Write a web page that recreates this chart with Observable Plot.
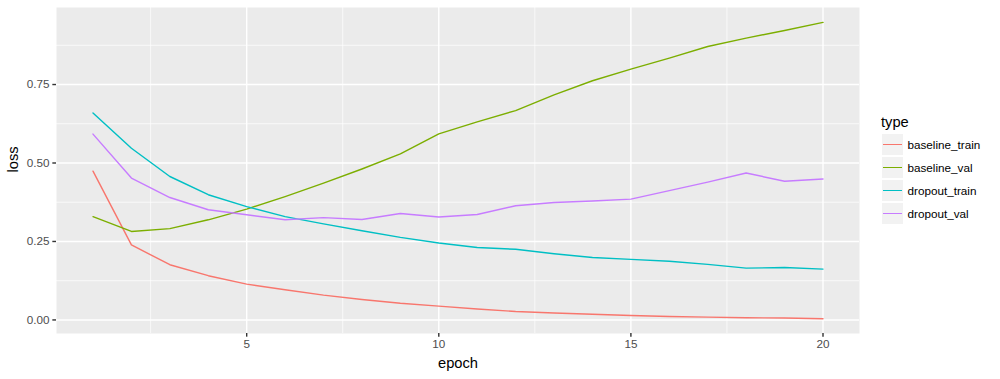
<!DOCTYPE html>
<html><head><meta charset="utf-8">
<script src="https://cdn.jsdelivr.net/npm/d3@7"></script>
<script src="https://cdn.jsdelivr.net/npm/@observablehq/plot@0.6"></script>
<style>
body{margin:0;background:#fff;font-family:"Liberation Sans",Arial,sans-serif;}
#wrap{position:relative;width:1000px;height:379px;overflow:hidden;}
#legend{position:absolute;left:881px;top:113.5px;}
#legend .title{font-size:14.7px;color:#000;line-height:1.117;height:19px;}
#legend .row{display:flex;align-items:center;height:23px;}
#legend .key{width:23px;height:23px;box-sizing:border-box;border:1px solid #fff;background:#F2F2F2;position:relative;}
#legend .key i{position:absolute;left:1px;right:1px;top:10.3px;height:1.42px;}
#legend .lab{font-size:11.7px;color:#000;margin-left:3.5px;}
</style></head><body><div id="wrap"></div>
<script>
const epochs = [1,2,3,4,5,6,7,8,9,10,11,12,13,14,15,16,17,18,19,20];
const types = ["baseline_train","baseline_val","dropout_train","dropout_val"];
const colors = ["#F8766D","#7CAE00","#00BFC4","#C77CFF"];
const baselineTrain = [0.474,0.239,0.176,0.141,0.114,0.096,0.079,0.065,0.053,0.044,0.035,0.027,0.022,0.018,0.014,0.011,0.009,0.007,0.006,0.004];
const baselineVal = [0.329,0.282,0.291,0.319,0.353,0.393,0.436,0.481,0.529,0.593,0.631,0.667,0.717,0.762,0.799,0.834,0.871,0.898,0.922,0.948];
const dropoutTrain = [0.659,0.547,0.457,0.399,0.361,0.329,0.306,0.284,0.263,0.245,0.231,0.225,0.211,0.199,0.193,0.187,0.177,0.165,0.167,0.162];
const dropoutVal = [0.592,0.452,0.39,0.351,0.335,0.319,0.326,0.320,0.339,0.328,0.336,0.364,0.374,0.379,0.385,0.412,0.439,0.468,0.442,0.449];
const xMajor = [5,10,15,20];
const xMinor = [2.5,7.5,12.5,17.5];
const yMajor = [0,0.25,0.5,0.75];
const yMinor = [0.125,0.375,0.625,0.875];

const series = [baselineTrain, baselineVal, dropoutTrain, dropoutVal];
const data = [];
types.forEach((t, i) => epochs.forEach((e, j) => data.push({type: t, epoch: e, loss: series[i][j]})));

const font = "Liberation Sans, Arial, sans-serif";
const chart = Plot.plot({
  width: 1000, height: 379,
  marginLeft: 56, marginRight: 141, marginTop: 7, marginBottom: 46,
  style: {fontFamily: font, background: "white", overflow: "visible"},
  x: {domain: [0.05, 20.95], label: null},
  y: {domain: [-0.0432, 0.9954], label: null},
  color: {domain: types, range: colors},
  marks: [
    Plot.frame({fill: "#EBEBEB", stroke: null}),
    Plot.gridX(xMinor, {stroke: "#fff", strokeOpacity: 1, strokeWidth: 0.71}),
    Plot.gridY(yMinor, {stroke: "#fff", strokeOpacity: 1, strokeWidth: 0.71}),
    Plot.gridX(xMajor, {stroke: "#fff", strokeOpacity: 1, strokeWidth: 1.42}),
    Plot.gridY(yMajor, {stroke: "#fff", strokeOpacity: 1, strokeWidth: 1.42}),
    Plot.axisX(xMajor, {tickSize: 3.67, tickPadding: 3, stroke: "#333333", strokeWidth: 1.42, fill: "#4D4D4D", fontSize: 11.7, label: null}),
    Plot.axisY(yMajor, {tickSize: 3.67, tickPadding: 3.3, stroke: "#333333", strokeWidth: 1.42, fill: "#4D4D4D", fontSize: 11.7, tickFormat: d3.format(".2f"), label: null}),
    Plot.line(data, {x: "epoch", y: "loss", z: "type", stroke: "type", strokeWidth: 1.42}),
    Plot.text(["epoch"], {frameAnchor: "bottom", lineAnchor: "middle", dy: 30, fontSize: 14.7, fill: "#000"}),
    Plot.text(["loss"], {frameAnchor: "left", dx: -43, dy: 2, rotate: -90, fontSize: 14.7, fill: "#000"})
  ]
});
const wrap = document.getElementById("wrap");
wrap.appendChild(chart);

const leg = document.createElement("div");
leg.id = "legend";
let html = '<div class="title">type</div>';
types.forEach((t, i) => {
  html += `<div class="row"><div class="key"><i style="background:${colors[i]}"></i></div><div class="lab">${t}</div></div>`;
});
leg.innerHTML = html;
wrap.appendChild(leg);
</script>
</body></html>
